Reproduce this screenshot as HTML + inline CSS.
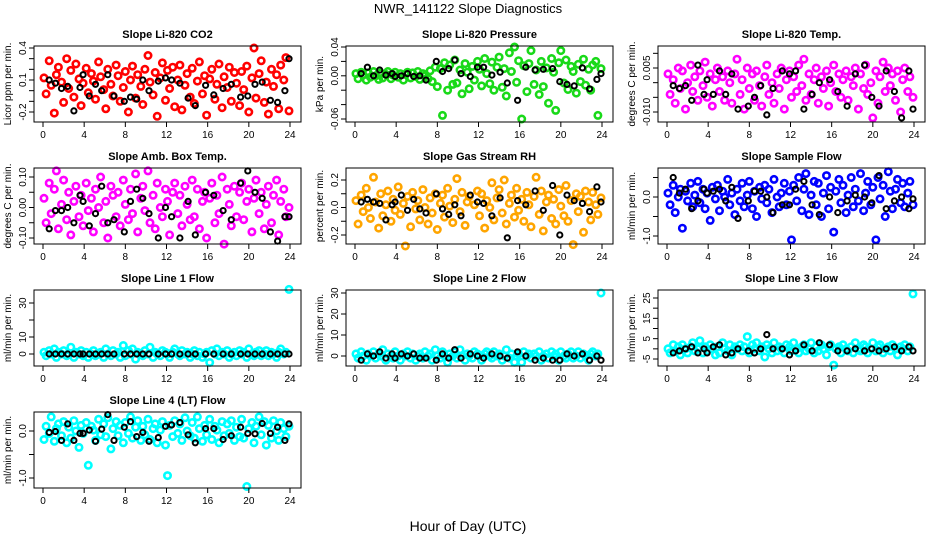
<!DOCTYPE html>
<html><head><meta charset="utf-8"><style>
body{margin:0;background:#fff;}
svg{display:block;font-family:"Liberation Sans",sans-serif;}
</style></head><body>
<svg id="c" width="936" height="540">
<text x="468" y="13" text-anchor="middle" font-size="13">NWR_141122  Slope Diagnostics</text>
<text x="468" y="531" text-anchor="middle" font-size="14">Hour of Day (UTC)</text>
</svg>
<script>
const hours=[0.1,0.3,0.6,0.8,1.1,1.3,1.5,1.8,2.0,2.3,2.5,2.7,3.0,3.2,3.5,3.7,3.9,4.2,4.4,4.7,4.9,5.1,5.4,5.6,5.9,6.1,6.3,6.6,6.8,7.1,7.3,7.5,7.8,8.0,8.3,8.5,8.7,9.0,9.2,9.5,9.7,9.9,10.2,10.4,10.7,10.9,11.1,11.4,11.6,11.9,12.1,12.3,12.6,12.8,13.1,13.3,13.5,13.8,14.0,14.3,14.5,14.7,15.0,15.2,15.5,15.7,15.9,16.2,16.4,16.7,16.9,17.1,17.4,17.6,17.9,18.1,18.3,18.6,18.8,19.1,19.3,19.5,19.8,20.0,20.3,20.5,20.7,21.0,21.2,21.5,21.7,21.9,22.2,22.4,22.7,22.9,23.1,23.4,23.6,23.9];
const blackHours=[0.6,1.2,1.8,2.4,3.0,3.6,3.9,4.5,5.1,5.7,6.3,6.9,7.9,8.5,9.1,9.7,10.3,11.2,11.9,12.5,13.3,14.1,14.8,15.8,16.6,17.5,18.3,19.2,19.9,20.6,21.3,22.1,22.8,23.5,23.9];
const xTicks=[0,4,8,12,16,20,24];
const co2=[.12,-.03,.28,.05,-.21,.15,.22,.08,-.11,.3,.02,.19,-.06,.25,.11,-.14,.07,.21,-.02,.16,.09,-.08,.27,.13,.01,-.17,.2,.06,-.05,.24,.14,-.1,.03,.18,-.2,.1,.23,-.07,.15,.04,-.13,.2,.33,.08,-.04,.17,-.24,.12,.26,-.09,.19,.02,.22,-.15,.1,.24,-.18,.05,.16,-.06,.21,-.12,.09,.27,-.03,.14,-.23,.11,.2,-.08,.06,.25,-.16,.13,.03,.22,-.1,.17,.07,-.14,.18,.01,.23,-.2,.12,.4,-.07,.16,.28,-.11,.08,-.22,.2,.04,.15,-.17,.24,.1,.31,-.19];
const co2Black=[.1,.07,.02,.04,-.19,.03,.15,-.05,.06,0,.15,-.05,-.1,-.06,-.08,.1,0,.09,.12,.1,.07,-.07,-.14,.05,-.04,.02,.06,-.06,-.05,.06,.08,-.09,-.11,0,.3];
const pres=[.003,-.004,.005,.001,-.006,.004,-.002,.006,0,-.005,.004,-.003,.002,.006,-.004,.001,.005,-.002,.003,-.006,.002,.005,-.003,.004,-.001,.006,-.005,.003,0,-.004,.007,-.008,.012,-.015,.01,-.055,.018,-.02,.015,-.012,.022,-.01,.008,-.025,.017,.005,-.018,.013,-.006,.02,.009,-.014,.024,.003,-.011,.019,-.02,.012,.026,-.016,.01,-.028,.032,.006,.04,-.009,.021,-.06,.014,-.022,.017,.035,-.012,.008,-.026,.02,-.015,.011,-.038,.024,.005,-.048,.018,.035,-.01,.022,-.019,.013,.006,-.024,.016,-.008,.023,-.013,.009,-.02,.015,.02,-.055,.01];
const presBlack=[.003,.012,0,.008,.001,.003,-.001,0,.003,-.001,0,-.006,.02,.006,.01,.022,.003,-.001,.012,.012,.001,.005,-.01,-.034,.012,.008,.009,.01,-.008,-.012,-.014,.011,-.018,-.005,.003];
const temp=[.003,-.004,.001,-.007,.005,-.002,.004,-.009,0,.006,-.003,.002,-.006,.004,-.001,.007,-.005,.003,-.008,.001,.005,-.003,.002,-.006,.004,0,-.007,.003,.008,-.004,.001,-.009,.005,-.002,.003,-.006,.004,-.001,-.008,.002,.006,-.004,0,-.007,.003,-.002,.005,-.009,.001,.004,-.005,.002,-.003,.006,-.001,.008,-.006,.003,-.004,.001,.005,-.007,.002,-.002,.004,-.008,0,.006,-.003,.003,-.005,.001,.004,-.006,.002,-.001,.005,-.009,.003,-.002,.006,-.004,0,-.012,.004,-.007,.002,.007,-.003,.005,-.001,.003,-.006,.004,-.01,.001,.005,-.003,.002,-.005];
const tempBlack=[-.001,-.002,-.001,-.006,.006,-.004,.001,-.004,.004,-.004,.003,-.009,-.008,-.005,-.001,-.011,-.002,.004,.003,.004,-.009,-.004,0,.001,-.003,-.008,.003,.006,-.005,-.008,.004,-.003,-.012,.004,-.009];
const box=[.03,-.05,.08,-.02,.06,.12,-.07,.01,.09,-.04,.05,-.09,.02,.07,-.03,.04,-.06,.08,-.01,.03,-.08,.06,0,.1,-.05,.02,-.1,.07,.04,-.03,.05,-.06,.09,.01,-.04,.06,-.02,.11,-.08,.03,.07,-.01,.12,-.05,.04,-.07,.08,0,-.03,.06,.02,-.09,.05,.08,-.02,.04,-.06,.07,.01,-.04,.09,-.03,.06,-.07,.02,.05,-.1,.03,.08,-.05,.04,-.02,.1,-.12,.06,.01,-.06,.07,-.03,.05,.08,-.04,.02,.06,-.08,.03,.09,-.02,.05,-.07,.01,.07,-.05,.04,.09,-.09,.02,.06,-.03,0];
const boxBlack=[-.07,-.01,-.01,0,-.05,.04,.02,-.06,-.02,.07,-.05,-.04,-.08,.02,.06,.03,-.02,-.1,0,-.03,-.1,.02,-.09,.05,.04,-.01,-.04,.08,.12,.05,.03,-.08,-.11,-.03,-.03];
const rh=[.05,-.12,.09,-.03,.14,0,-.08,.22,.04,-.15,.1,-.06,.02,.12,-.1,.06,-.02,.15,-.05,.03,-.28,.08,-.14,.11,-.01,.05,-.09,.13,0,-.12,.07,-.04,.1,-.16,.03,.09,-.07,.14,.01,-.11,.06,.21,-.03,.11,-.13,.04,.08,-.3,.02,.12,-.06,.1,-.15,.05,0,.18,-.09,.07,.13,-.04,.2,-.12,.03,.09,-.07,.14,-.02,.06,-.1,.11,.02,-.14,.08,.22,-.05,.12,-.17,.04,.09,-.08,.06,-.12,.13,.01,-.06,.16,-.1,.05,-.27,.1,-.03,.08,-.18,.12,.04,-.09,.11,.02,-.05,.07];
const rhBlack=[.04,.06,.04,.03,-.09,.02,.04,.09,-.02,.06,-.01,-.04,.1,-.01,-.05,.02,-.06,.09,.04,.03,-.06,.07,-.22,.05,.02,.12,-.02,.16,-.2,.09,.05,.03,-.03,.15,.04];
const sflow=[.1,-.2,.3,-.4,0,.2,-.8,.15,-.1,.35,-.25,.05,.4,-.15,.2,-.3,.1,-.6,.25,-.05,.3,-.35,.15,0,.45,-.2,.1,-.45,.2,-.1,.35,-.25,.05,.4,-.3,.15,-.5,.25,-.05,.3,-.15,.2,-.4,.45,0,-.25,.1,.35,-.2,.15,-1.1,.3,-.1,.5,-.35,.2,.6,-.45,.05,.4,-.2,.35,-.5,.1,.55,-.3,.25,-.9,.15,.45,-.15,.3,-.4,.05,.5,-.25,.2,-.1,.6,-.35,.1,.4,-.2,.25,-1.1,.5,-.05,.3,-.5,.65,.15,-.3,.2,.45,-.15,.35,-.25,.1,.4,-.2];
const sflowBlack=[.5,.1,.2,-.3,-.1,.2,.1,.15,.2,-.1,.25,-.55,-.1,.15,.15,0,-.4,-.2,-.2,.2,.4,-.2,-.45,0,-.4,-.1,.05,0,-.15,.55,-.3,-.1,0,-.3,-.05];
const line1=[1,-1,2,0,3,-2,1,0,2,-1,0,4,-2,1,0,2,-1,1,-2,0,2,-1,0,1,-2,3,0,-1,2,0,1,-2,5,-1,2,0,3,-3,1,0,-1,2,0,4,-2,1,0,-1,2,1,0,-2,1,3,0,-1,2,0,1,-2,0,2,-1,1,-2,0,1,-5,2,0,3,-1,1,0,2,-2,0,1,-1,2,0,1,-2,3,0,-1,1,2,-1,0,2,-1,1,0,-2,1,3,0,1,38];
const line1Black=[0,0,0,0,0,0,0,0,0,0,0,0,0,0,0,0,0,0,0,0,0,0,0,0,0,0,0,0,0,0,0,0,0,0,0];
const line2=[1,-1,2,0,-2,1,0,2,-1,1,0,3,-2,1,0,-1,2,0,-2,1,0,2,-1,1,-2,0,1,-1,2,0,1,-2,3,0,-1,2,0,-3,1,0,2,-1,3,0,-2,1,0,-1,2,1,0,-2,1,2,0,-1,2,0,1,-2,0,3,-1,1,-3,0,1,-3,2,0,1,-1,1,0,2,-2,0,1,-1,2,0,1,-2,2,0,-1,1,2,-1,0,2,-1,1,0,-2,1,2,0,1,30];
const line2Black=[-2,1,0,2,-1,1,-1,1,0,1,-1,-1,-2,1,-1,3,-1,1,0,-1,1,0,-1,2,0,-2,-1,-2,-2,1,0,1,-2,0,-2];
const line3=[0,-2,2,-1,1,-3,2,0,-2,1,3,-1,0,4,-2,1,-1,2,0,-3,1,-2,3,0,-1,2,-3,1,0,2,-1,1,6,-2,2,0,3,-1,1,-4,2,0,-2,3,-1,1,0,-2,2,1,-1,3,0,-2,1,2,-1,0,3,-2,1,-1,2,0,-3,1,2,-8,0,1,-2,2,0,-1,1,-2,3,0,-1,2,1,-2,0,3,-1,1,2,-2,0,1,-1,2,0,-3,1,0,2,-1,1,27];
const line3Black=[-2,-1,0,1,-2,0,-2,1,2,-3,-2,0,-1,-2,0,7,0,0,-3,-1,2,-1,3,2,-1,-1,0,-1,0,-1,0,1,-1,1,-1];
const line4=[-.18,.1,-.05,.3,-.22,.05,.15,-.1,.2,-.25,.08,-.15,.22,0,-.35,.12,-.05,.18,-.73,.1,.02,-.2,.25,-.08,.15,-.12,.28,-.38,.05,.2,-.1,.12,-.25,.18,-.05,.3,-.15,.08,.22,-.2,.1,-.08,.25,-.18,.05,.15,-.25,.02,.2,-.3,-.95,.12,-.12,.22,-.05,.15,-.2,.28,0,-.1,.18,-.15,.3,.05,-.22,.12,-.08,.25,-.18,.1,.02,-.25,.2,-.1,.15,-.05,.22,-.2,.08,-.12,.25,-.15,-1.18,.05,.18,-.25,.1,.3,-.08,.2,-.3,.12,-.15,.22,0,-.2,.18,.05,-.12,.1];
const line4Black=[-.03,-.01,-.2,.15,-.2,-.05,-.05,.02,-.22,.04,.35,-.2,.08,.2,-.12,-.03,-.22,-.14,.1,.13,.18,-.08,-.25,.05,.05,-.18,-.1,.08,-.05,-.06,.16,-.05,.08,-.2,.15];

const NS='http://www.w3.org/2000/svg';
const svg=document.getElementById('c');
function mk(tag,attrs,parent){const e=document.createElementNS(NS,tag);for(const k in attrs)e.setAttribute(k,attrs[k]);(parent||svg).appendChild(e);return e;}
const panels=[
 {id:'co2',title:'Slope Li-820 CO2',ylab:'Licor ppm per min.',col:0,row:0,c:'#ff0000',v:co2,b:co2Black,ticks:[-0.2,-0.1,0,0.1,0.2,0.3,0.4],labels:{'-0.2':'-0.2','0.1':'0.1','0.4':'0.4'},cal:[0.4,48,-0.2,112]},
 {id:'pressure',title:'Slope Li-820 Pressure',ylab:'kPa per min.',col:1,row:0,c:'#19d919',v:pres,b:presBlack,ticks:[-0.06,-0.04,-0.02,0,0.02,0.04],labels:{'-0.06':'-0.06','0':'0.00','0.04':'0.04'},cal:[0.04,47,-0.06,119]},
 {id:'temp',title:'Slope Li-820 Temp.',ylab:'degrees C per min.',col:2,row:0,c:'#ff00ff',v:temp,b:tempBlack,ticks:[-0.01,-0.005,0,0.005,0.01],labels:{'-0.01':'-0.010','0.005':'0.005'},cal:[0.005,68,-0.01,112]},
 {id:'box-temp',title:'Slope Amb. Box Temp.',ylab:'degrees C per min.',col:0,row:1,c:'#ff00ff',v:box,b:boxBlack,ticks:[-0.1,-0.05,0,0.05,0.1],labels:{'-0.1':'-0.10','0':'0.00','0.1':'0.10'},cal:[0.1,177,-0.1,238]},
 {id:'rh',title:'Slope Gas Stream RH',ylab:'percent per min.',col:1,row:1,c:'#ffa500',v:rh,b:rhBlack,ticks:[-0.2,-0.1,0,0.1,0.2],labels:{'-0.2':'-0.2','0':'0.0','0.2':'0.2'},cal:[0.2,180,-0.2,235]},
 {id:'sample-flow',title:'Slope Sample Flow',ylab:'ml/min per min.',col:2,row:1,c:'#0000ff',v:sflow,b:sflowBlack,ticks:[-1,-0.5,0,0.5],labels:{'-1':'-1.0','0':'0.0'},cal:[0,197,-1,236]},
 {id:'line1',title:'Slope Line 1 Flow',ylab:'ml/min per min.',col:0,row:2,c:'#00ffff',v:line1,b:line1Black,ticks:[0,10,20,30],labels:{'0':'0','10':'10','30':'30'},cal:[30,303,0,354]},
 {id:'line2',title:'Slope Line 2 Flow',ylab:'ml/min per min.',col:1,row:2,c:'#00ffff',v:line2,b:line2Black,ticks:[0,10,20,30],labels:{'0':'0','10':'10','20':'20','30':'30'},cal:[30,293,0,356]},
 {id:'line3',title:'Slope Line 3 Flow',ylab:'ml/min per min.',col:2,row:2,c:'#00ffff',v:line3,b:line3Black,ticks:[-5,0,5,10,15,20,25],labels:{'-5':'-5','5':'5','15':'15','25':'25'},cal:[25,298,-5,359]},
 {id:'line4',title:'Slope Line 4 (LT) Flow',ylab:'ml/min per min.',col:0,row:3,c:'#00ffff',v:line4,b:line4Black,ticks:[-1,-0.5,0],labels:{'-1':'-1.0','0':'0.0'},cal:[0,431,-1,478]}
];
panels.forEach(p=>{
 const L=34+p.col*312, R=L+267, T=46+p.row*122, B=T+76;
 const g=mk('g',{});
 
 
 const xs=h=>L+9+h*(247/24);
 const ys=v=>p.cal[1]+(v-p.cal[0])*(p.cal[3]-p.cal[1])/(p.cal[2]-p.cal[0]);
 const t=mk('text',{x:(L+R)/2,y:T-8,'text-anchor':'middle','font-size':11,'font-weight':'bold'},g);t.textContent=p.title;
 
 
 const yl=mk('text',{x:0,y:0,'text-anchor':'middle','font-size':10,transform:`translate(${L-23},${(T+B)/2}) rotate(-90)`},g);yl.textContent=p.ylab;
 
 
 const n=Math.min(hours.length,p.v.length);
 for(let i=0;i<n;i++){
  const y=ys(p.v[i]); if(y<T-2||y>B+2)continue;
  const c=mk('circle',{cx:xs(hours[i]).toFixed(1),cy:y.toFixed(1),r:3.2,fill:'none',stroke:p.c,'stroke-width':2.6},g);
  
  
 }
 const m=Math.min(blackHours.length,p.b.length);
 for(let i=0;i<m;i++){
  const c=mk('circle',{cx:xs(blackHours[i]).toFixed(1),cy:ys(p.b[i]).toFixed(1),r:2.6,fill:'none',stroke:'#000','stroke-width':2},g);
  
  
 }
 const r=mk('rect',{x:L,y:T,width:R-L,height:B-T,fill:'none',stroke:'#000','stroke-width':1},g);
 
 
 mk('line',{x1:xs(0),x2:xs(24),y1:B,y2:B,stroke:'#000'},g);
 xTicks.forEach(h=>{
  mk('line',{x1:xs(h),x2:xs(h),y1:B,y2:B+5,stroke:'#000'},g);
  const tx=mk('text',{x:xs(h),y:B+16,'text-anchor':'middle','font-size':10},g);tx.textContent=h;
  
  
 });
 const yt=p.ticks.map(ys);
 mk('line',{x1:L,x2:L,y1:Math.min(...yt),y2:Math.max(...yt),stroke:'#000'},g);
 p.ticks.forEach(v=>{
  const y=ys(v);
  mk('line',{x1:L-5,x2:L,y1:y,y2:y,stroke:'#000'},g);
  const key=String(v);
  if(p.labels[key]!==undefined){
   const tl=mk('text',{x:0,y:0,'text-anchor':'middle','font-size':10,transform:`translate(${L-8},${y}) rotate(-90)`},g);tl.textContent=p.labels[key];
   
   
  }
 });
});
</script>
</body></html>
